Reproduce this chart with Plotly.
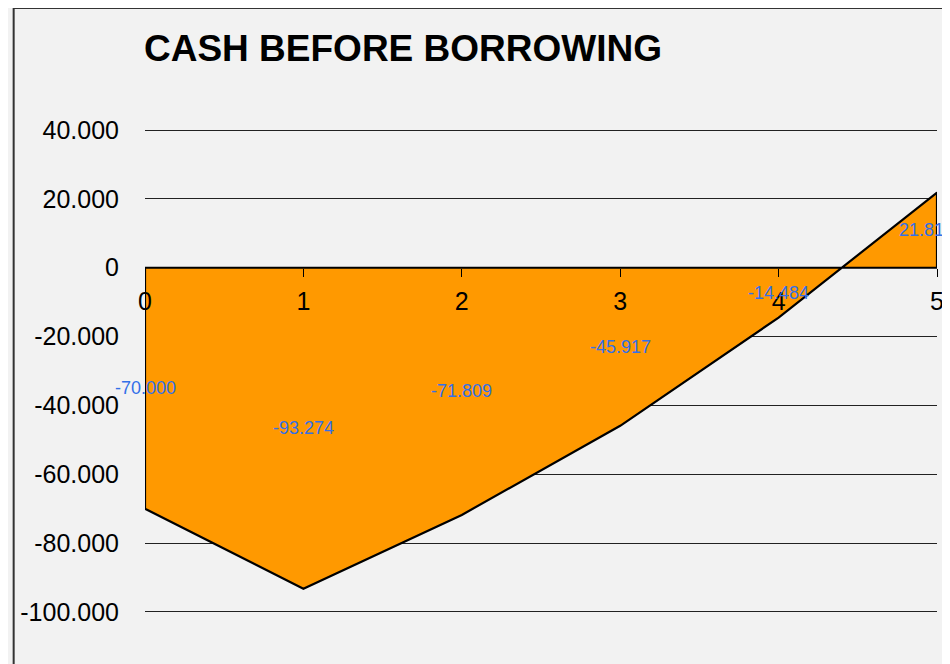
import plotly.graph_objects as go

periods = [0, 1, 2, 3, 4, 5]
cash = [-70000, -93274, -71809, -45917, -14484, 21815]
y_ticks = [40000, 20000, 0, -20000, -40000, -60000, -80000, -100000]
label_xshift = [0, 0, 0, 0, 0, -11]


def fmt(v):
    return f"{v:,}".replace(",", ".")


FONT = "Liberation Sans, Arial, sans-serif"

# closed polygon built from the data (area to zero with border)
poly_x = [periods[0]] + periods + [periods[-1], periods[0]]
poly_y = [0] + cash + [0, 0]

fig = go.Figure()
fig.add_trace(go.Scatter(
    x=poly_x, y=poly_y, mode="lines", fill="toself",
    fillcolor="#FF9900", line=dict(color="black", width=2.2),
    hoverinfo="skip", showlegend=False,
))

for x, v, dx in zip(periods, cash, label_xshift):
    fig.add_annotation(
        x=x, y=v / 2, text=fmt(v), showarrow=False, xshift=dx,
        font=dict(family=FONT, size=18, color="#3370e8"),
        xanchor="center", yanchor="middle",
    )

# page body has an 8px margin, so figure coords = screen coords - 8
L, R, T, B = 133, 929, 121, 605
fig.update_layout(
    width=950, height=664,
    margin=dict(l=L, r=950 - R, t=T, b=664 - B),
    paper_bgcolor="#f2f2f2", plot_bgcolor="#f2f2f2",
    font=dict(family=FONT, size=25, color="black"),
    showlegend=False,
    title=dict(
        text="<b>CASH BEFORE BORROWING</b>",
        font=dict(family=FONT, size=37, color="black"),
        xref="container", yref="container",
        x=136 / 950, xanchor="left",
        y=1 - 40 / 664, yanchor="middle",
    ),
    xaxis=dict(
        range=[0, 5], tickvals=periods, ticktext=[str(p) for p in periods],
        showgrid=False, zeroline=False, showline=False,
        anchor="free", position=100300 / 140600,
        ticks="outside", ticklen=8, tickwidth=1, tickcolor="black",
        ticklabelstandoff=3,
        tickfont=dict(family=FONT, size=25, color="black"),
    ),
    yaxis=dict(
        range=[-100300, 40300], tickvals=y_ticks,
        ticktext=[fmt(v) for v in y_ticks],
        showgrid=True, gridcolor="#222222", gridwidth=1,
        zeroline=False, showline=False, ticks="",
        ticklabelstandoff=25,
        tickfont=dict(family=FONT, size=25, color="black"),
    ),
)

W, H = R - L, B - T
# outer chart border (extends beyond the cropped image on right/bottom)
fig.add_shape(type="rect", xref="paper", yref="paper",
              x0=(1 - L) / W, x1=(970 - L) / W,
              y0=(B - 700) / H, y1=(B - 0) / H,
              line=dict(color="#333333", width=2), layer="below")

fig.write_html("out.html")
